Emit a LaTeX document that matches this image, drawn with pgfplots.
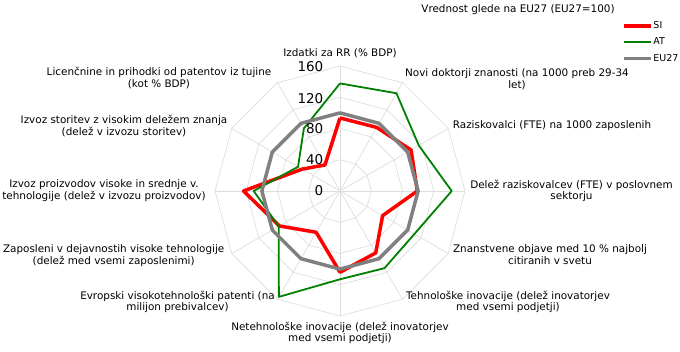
\documentclass[border=0pt]{standalone}
\usepackage{fontspec}
\setmainfont{DejaVu Sans}
\usepackage{pgfplots}
\pgfplotsset{compat=1.18}
\usepgfplotslibrary{polar}
\definecolor{gridc}{HTML}{DDDDDD}
\definecolor{sired}{HTML}{FF0000}
\definecolor{atgreen}{HTML}{008000}
\definecolor{eugray}{HTML}{808080}
\begin{document}
\begin{tikzpicture}
\path[use as bounding box] (-340pt,-160pt) rectangle (340pt,191pt);
\begin{polaraxis}[
  at={(0pt,0pt)}, anchor=center,
  scale only axis, width=250pt, height=250pt,
  ymin=0, ymax=160,
  hide axis, clip=false,
  legend style={draw=none, fill=none, at={(1.742,1.095)}, anchor=center,
    font=\fontsize{9.5}{10}\selectfont, row sep=7pt, inner sep=0pt,
    column sep=0pt, nodes={inner sep=0.5pt}},
  legend cell align=left,
  legend image code/.code={\draw[#1] (0pt,0pt) -- (27.5pt,0pt);},
]
% grid rings
\addplot[gridc, line width=0.7pt, forget plot] coordinates {(0,40)(30,40)(60,40)(90,40)(120,40)(150,40)(180,40)(210,40)(240,40)(270,40)(300,40)(330,40)(360,40)};
\addplot[gridc, line width=0.7pt, forget plot] coordinates {(0,80)(30,80)(60,80)(90,80)(120,80)(150,80)(180,80)(210,80)(240,80)(270,80)(300,80)(330,80)(360,80)};
\addplot[gridc, line width=0.7pt, forget plot] coordinates {(0,120)(30,120)(60,120)(90,120)(120,120)(150,120)(180,120)(210,120)(240,120)(270,120)(300,120)(330,120)(360,120)};
\addplot[gridc, line width=0.7pt, forget plot] coordinates {(0,160)(30,160)(60,160)(90,160)(120,160)(150,160)(180,160)(210,160)(240,160)(270,160)(300,160)(330,160)(360,160)};
% spokes
\addplot[gridc, line width=0.7pt, forget plot] coordinates {(0,0)(0,160)};
\addplot[gridc, line width=0.7pt, forget plot] coordinates {(30,0)(30,160)};
\addplot[gridc, line width=0.7pt, forget plot] coordinates {(60,0)(60,160)};
\addplot[gridc, line width=0.7pt, forget plot] coordinates {(90,0)(90,160)};
\addplot[gridc, line width=0.7pt, forget plot] coordinates {(120,0)(120,160)};
\addplot[gridc, line width=0.7pt, forget plot] coordinates {(150,0)(150,160)};
\addplot[gridc, line width=0.7pt, forget plot] coordinates {(180,0)(180,160)};
\addplot[gridc, line width=0.7pt, forget plot] coordinates {(210,0)(210,160)};
\addplot[gridc, line width=0.7pt, forget plot] coordinates {(240,0)(240,160)};
\addplot[gridc, line width=0.7pt, forget plot] coordinates {(270,0)(270,160)};
\addplot[gridc, line width=0.7pt, forget plot] coordinates {(300,0)(300,160)};
\addplot[gridc, line width=0.7pt, forget plot] coordinates {(330,0)(330,160)};
% data
\addplot[sired, line width=3.5pt, line join=round, mark=none] coordinates {
 (90,93.5)(60,94)(30,105)(0,99)(330,63)(300,91.5)(270,104)(240,61)(210,89.5)(180,123.5)(150,56)(120,38.5)(90,93.5)};
\addlegendentry{SI}
\addplot[atgreen, line width=1.8pt, line join=round, mark=none] coordinates {
 (90,137.7)(60,144.5)(30,116.5)(0,143)(330,110)(300,114)(270,113)(240,156.5)(210,90.5)(180,110.5)(150,62)(120,92.5)(90,137.7)};
\addlegendentry{AT}
\addplot[eugray, line width=3.5pt, line join=round, mark=none] coordinates {
 (90,100)(60,100)(30,100)(0,100)(330,100)(300,100)(270,100)(240,100)(210,100)(180,100)(150,100)(120,100)(90,100)};
\addlegendentry{EU27}
\end{polaraxis}
% radial tick labels
\begin{scope}[every node/.style={font=\fontsize{13.5}{14}\selectfont, inner sep=0pt, anchor=east}]
\node at (-16.5pt,0pt) {0};
\node at (-16.5pt,31pt) {40};
\node at (-16.5pt,62pt) {80};
\node at (-16.5pt,92.7pt) {120};
\node at (-16.5pt,124pt) {160};
\end{scope}
% category labels
\begin{scope}[every node/.style={font=\fontsize{10.4}{11.8}\selectfont, align=center, inner sep=0pt}]
\node at (0pt,138pt) {Izdatki za RR (\% BDP)};
\node at (177pt,112pt) {Novi doktorji znanosti (na 1000 preb 29-34\\let)};
\node at (212pt,65pt) {Raziskovalci (FTE) na 1000 zaposlenih};
\node at (231.5pt,0pt) {Delež raziskovalcev (FTE) v poslovnem\\sektorju};
\node at (210pt,-64pt) {Znanstvene objave med 10 \% najbolj\\citiranih v svetu};
\node at (168pt,-111pt) {Tehnološke inovacije (delež inovatorjev\\med vsemi podjetji)};
\node at (0pt,-142pt) {Netehnološke inovacije (delež inovatorjev\\med vsemi podjetji)};
\node at (-162.5pt,-111pt) {Evropski visokotehnološki patenti (na\\milijon prebivalcev)};
\node at (-226.3pt,-64.5pt) {Zaposleni v dejavnostih visoke tehnologije\\(delež med vsemi zaposlenimi)};
\node at (-236pt,0pt) {Izvoz proizvodov visoke in srednje v.\\tehnologije (delež v izvozu proizvodov)};
\node at (-216pt,65pt) {Izvoz storitev z visokim deležem znanja\\(delež v izvozu storitev)};
\node at (-181pt,113pt) {Licenčnine in prihodki od patentov iz tujine\\(kot \% BDP)};
\end{scope}
\node[font=\fontsize{10.4}{12}\selectfont, inner sep=0pt] at (178pt,181pt) {Vrednost glede na EU27 (EU27=100)};
\end{tikzpicture}
\end{document}
